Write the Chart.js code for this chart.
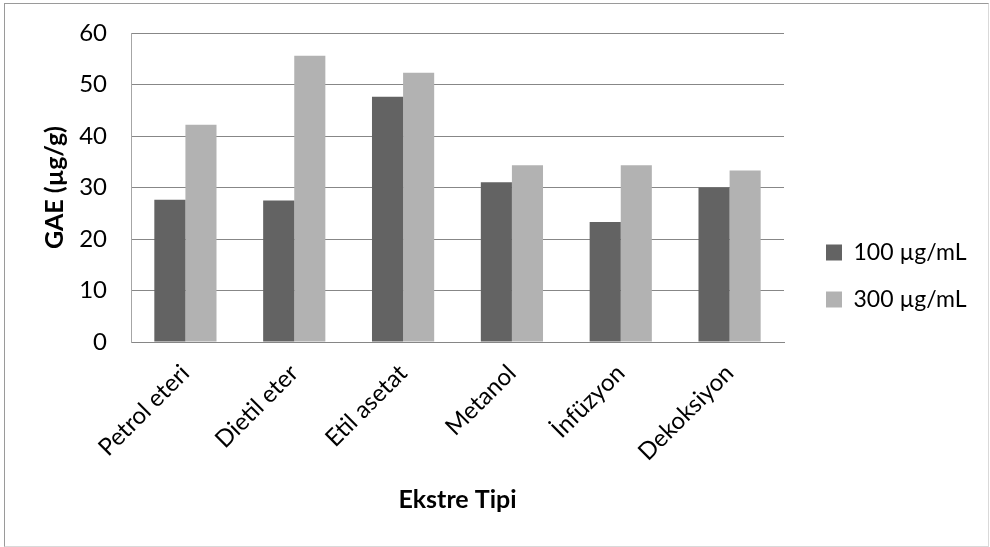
<!DOCTYPE html>
<html>
<head>
<meta charset="utf-8">
<script src="https://cdn.jsdelivr.net/npm/chart.js@4.4.0/dist/chart.umd.min.js"></script>
<style>
  html, body { margin: 0; padding: 0; background: #fff; }
  #wrap { position: relative; width: 990px; height: 547px; }
  #frame {
    position: absolute; left: 4px; top: 3px; width: 985px; height: 544px;
    box-sizing: border-box; pointer-events: none;
    border-left: 1px solid #9a9a9a; border-top: 1px solid #9a9a9a;
    border-right: 1px solid #d9d9d9; border-bottom: 1px solid #d9d9d9;
  }
</style>
</head>
<body>
<div id="wrap">
  <canvas id="chart" width="990" height="547"></canvas>
  <div id="frame"></div>
</div>
<script>
// veriler
const categories = ['Petrol eteri', 'Dietil eter', 'Etil asetat', 'Metanol', 'İnfüzyon', 'Dekoksiyon'];
const values100 = [27.6, 27.5, 47.6, 31.0, 23.3, 30.0];
const values300 = [42.2, 55.6, 52.3, 34.3, 34.3, 33.3];
const yMin = 0;
const yMax = 60;
const yStep = 10;

const fontFamily = "Lato, 'Open Sans', sans-serif";

// lejant yerleşimi (Excel gibi sağda, dikeyde ortalı)
const legendPlacement = {
  id: 'legendPlacement',
  beforeLayout(chart) {
    const legend = chart.legend;
    if (!legend || legend._patched) return;
    const fit = legend.fit;
    legend.fit = function () {
      fit.call(this);
      this.width = 179;
    };
    legend._patched = true;
  },
  afterLayout(chart) {
    const legend = chart.legend;
    if (!legend) return;
    legend.left += 18;
    legend.right += 18;
    legend.top -= 14;
    legend.bottom -= 14;
  }
};

new Chart(document.getElementById('chart'), {
  type: 'bar',
  data: {
    labels: categories,
    datasets: [
      {
        label: '100 µg/mL',
        data: values100,
        backgroundColor: '#636363',
        categoryPercentage: 2 / 3.5,
        barPercentage: 1
      },
      {
        label: '300 µg/mL',
        data: values300,
        backgroundColor: '#b2b2b2',
        categoryPercentage: 2 / 3.5,
        barPercentage: 1
      }
    ]
  },
  options: {
    responsive: false,
    animation: false,
    layout: {
      padding: { top: 33, right: 27, bottom: 0, left: 0 }
    },
    plugins: {
      legend: {
        position: 'right',
        labels: {
          boxWidth: 16,
          boxHeight: 16,
          padding: 24,
          color: '#000',
          font: { family: fontFamily, size: 23 }
        }
      },
      tooltip: { enabled: false }
    },
    scales: {
      x: {
        grid: { display: false, drawTicks: false },
        border: { color: '#868686' },
        ticks: {
          minRotation: 45,
          maxRotation: 45,
          padding: 17,
          color: '#000',
          font: { family: fontFamily, size: 24 }
        },
        title: {
          display: true,
          text: 'Ekstre Tipi',
          color: '#000',
          font: { family: fontFamily, size: 25, weight: 'bold' },
          padding: { top: 0, bottom: 32 }
        },
        afterFit(scale) {
          scale.height = 205;
        }
      },
      y: {
        min: yMin,
        max: yMax,
        ticks: {
          stepSize: yStep,
          padding: 24,
          color: '#000',
          font: { family: fontFamily, size: 24 }
        },
        grid: { color: '#878787', drawTicks: false },
        border: { color: '#a6a6a6' },
        title: {
          display: true,
          text: 'GAE (µg/g)',
          color: '#000',
          font: { family: fontFamily, size: 25, weight: 'bold' },
          padding: { top: 40, bottom: 0 }
        },
        afterFit(scale) {
          scale.width = 131;
          // tick padding üst/alt boşluğa eklenmesin
          scale.paddingTop = 0;
          scale.paddingBottom = 0;
        }
      }
    }
  },
  plugins: [legendPlacement]
});
</script>
</body>
</html>
